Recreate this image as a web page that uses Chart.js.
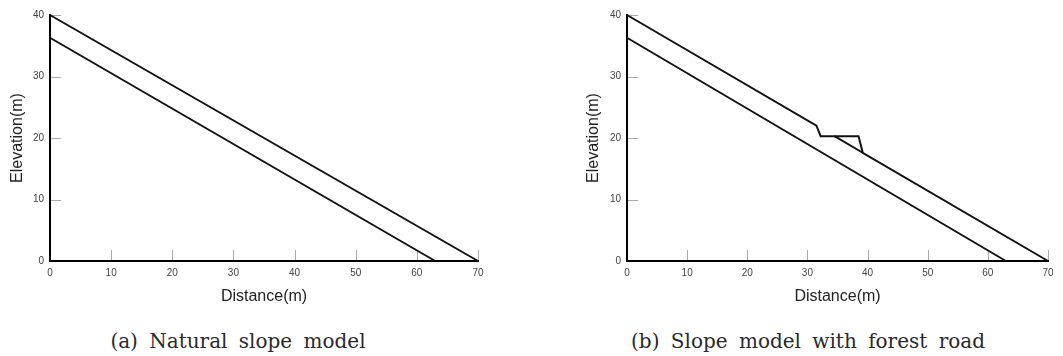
<!DOCTYPE html>
<html>
<head>
<meta charset="utf-8">
<script src="https://cdn.jsdelivr.net/npm/chart.js@4/dist/chart.umd.min.js"></script>
<style>
  html, body { margin: 0; padding: 0; background: #fff; }
  body { width: 1063px; height: 356px; position: relative; overflow: hidden; }
  canvas { position: absolute; top: 0; }
  #chartA { left: 0; }
  #chartB { left: 530px; }
  .caption {
    position: absolute; top: 329px;
    font-family: "DejaVu Serif", "Liberation Serif", serif;
    font-size: 20px; color: #2a2a2a; white-space: nowrap;
    transform: translateX(-50%); word-spacing: 5px;
  }
</style>
</head>
<body>
<canvas id="chartA" width="500" height="310"></canvas>
<canvas id="chartB" width="533" height="310"></canvas>
<div class="caption" style="left:238px">(a) Natural slope model</div>
<div class="caption" style="left:808px">(b) Slope model with forest road</div>

<script>
// tick values
const xTicks = [0, 10, 20, 30, 40, 50, 60, 70];
const yTicks = [0, 10, 20, 30, 40];

// ground surface, natural slope (a)
const surfaceX = [0, 70];
const surfaceY = [40, 0];

// bottom of the soil layer (same in a and b)
const bedX = [0, 63];
const bedY = [36.3, 0];

// surface with forest road cut (b)
const roadX = [0, 31.5, 32.2, 38.5, 39.2, 70];
const roadY = [40, 22.0, 20.3, 20.3, 17.6, 0];

// original slope under the road fill (b)
const fillX = [34.5, 39.2];
const fillY = [20.3, 17.6];

function pts(xs, ys) {
  return xs.map((x, i) => ({ x: x, y: ys[i] }));
}

function lineSet(xs, ys) {
  return {
    data: pts(xs, ys),
    showLine: true,
    borderColor: '#111',
    borderWidth: 2,
    pointRadius: 0,
    tension: 0,
    clip: false
  };
}

// small gray tick marks drawn inside the plot
const innerTicks = {
  id: 'innerTicks',
  beforeDatasetsDraw(chart) {
    const ctx = chart.ctx;
    const xs = chart.scales.x, ys = chart.scales.y;
    const a = chart.chartArea;
    ctx.save();
    ctx.strokeStyle = '#aaa';
    ctx.lineWidth = 1;
    xTicks.forEach(v => {
      if (v === 0) return;
      const px = Math.round(xs.getPixelForValue(v)) + 0.5;
      ctx.beginPath();
      ctx.moveTo(px, a.bottom - 1);
      ctx.lineTo(px, a.bottom - 11);
      ctx.stroke();
    });
    yTicks.forEach(v => {
      if (v === 0) return;
      const py = Math.round(ys.getPixelForValue(v)) + 0.5;
      ctx.beginPath();
      ctx.moveTo(a.left + 1, py);
      ctx.lineTo(a.left + 11, py);
      ctx.stroke();
    });
    ctx.restore();
  }
};

function makeChart(id, datasets, padLeft, yWidth, padRight) {
  const tickFont = { family: 'Liberation Sans, Arial, sans-serif', size: 10 };
  const titleFont = { family: 'Liberation Sans, Arial, sans-serif', size: 16 };
  return new Chart(document.getElementById(id), {
    type: 'scatter',
    data: { datasets: datasets },
    plugins: [innerTicks],
    options: {
      responsive: false,
      animation: false,
      layout: { padding: { left: padLeft, top: 15, right: padRight, bottom: 0 } },
      plugins: { legend: { display: false }, tooltip: { enabled: false } },
      scales: {
        x: {
          type: 'linear', min: 0, max: 70,
          afterBuildTicks: s => { s.ticks = xTicks.map(v => ({ value: v })); },
          afterFit: s => { s.height = 49; },
          ticks: { color: '#444', font: tickFont, padding: 6, maxRotation: 0 },
          grid: { display: false, drawTicks: false },
          border: { color: '#000', width: 2 },
          title: { display: true, text: 'Distance(m)', color: '#222', font: titleFont, padding: { top: 0, bottom: 4 } }
        },
        y: {
          type: 'linear', min: 0, max: 40,
          afterBuildTicks: s => { s.ticks = yTicks.map(v => ({ value: v })); },
          afterFit: s => { s.width = yWidth; },
          ticks: { color: '#444', font: tickFont, padding: 6 },
          grid: { display: false, drawTicks: false },
          border: { color: '#000', width: 2 },
          title: { display: true, text: 'Elevation(m)', color: '#222', font: titleFont, padding: { top: 8, bottom: 0 } }
        }
      }
    }
  });
}

makeChart('chartA', [lineSet(surfaceX, surfaceY), lineSet(bedX, bedY)], 0, 50, 22);
makeChart('chartB', [lineSet(roadX, roadY), lineSet(fillX, fillY), lineSet(bedX, bedY)], 46, 51, 15);
</script>
</body>
</html>
